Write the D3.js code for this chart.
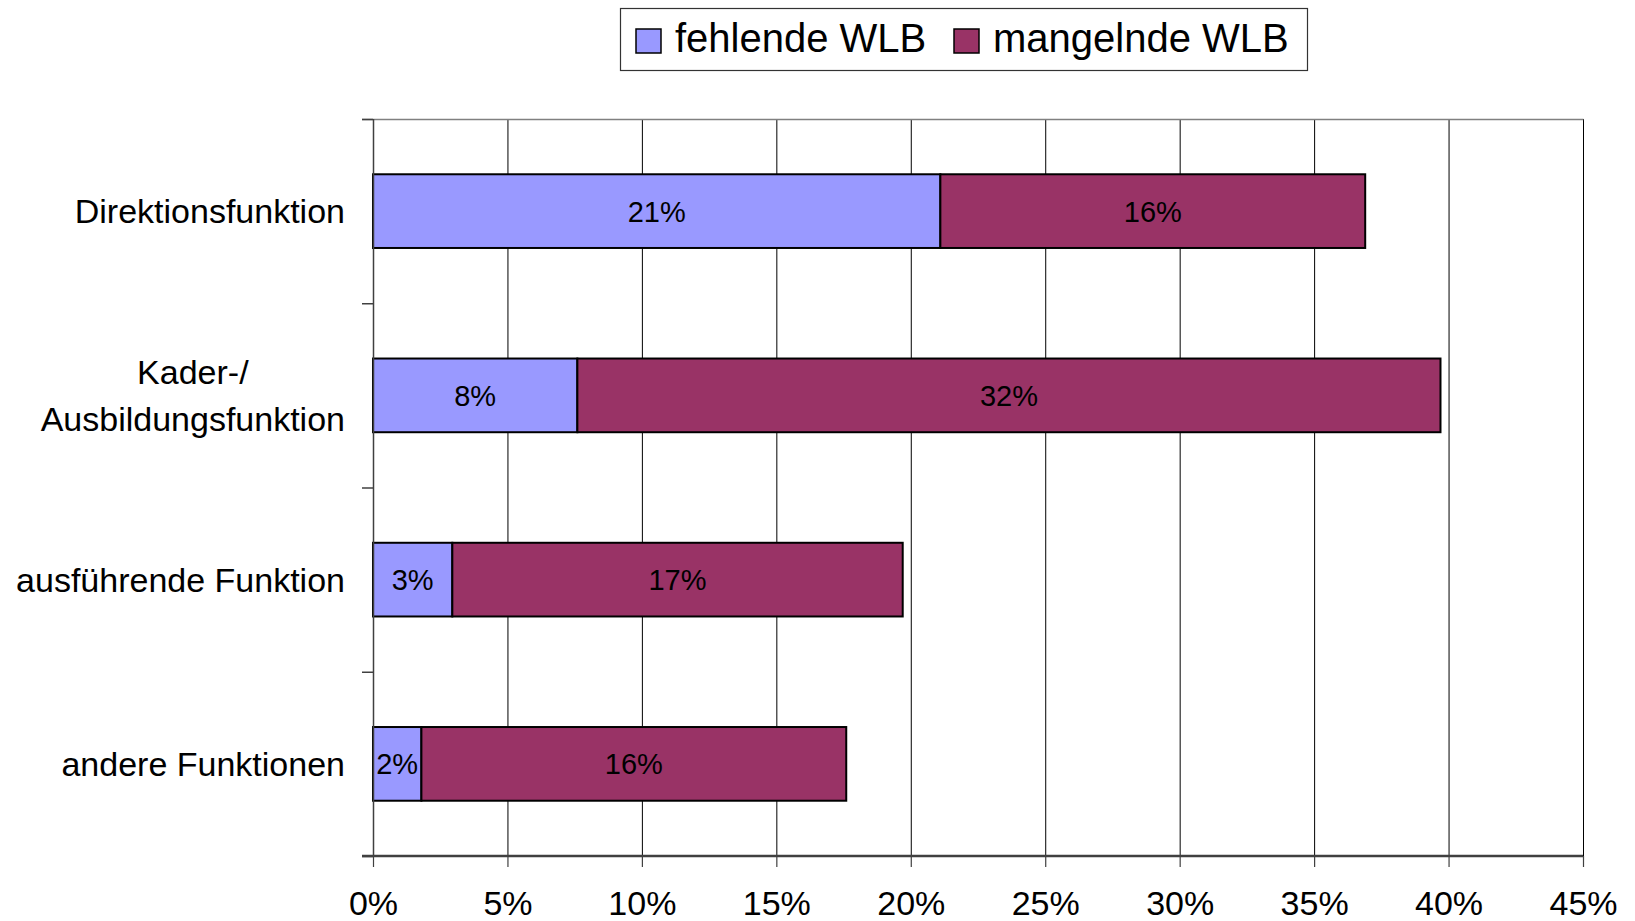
<!DOCTYPE html>
<html>
<head>
<meta charset="utf-8">
<script src="https://cdn.jsdelivr.net/npm/d3@7"></script>
<style>
  body { margin: 0; background: #fff; }
  svg { display: block; font-family: "Liberation Sans", Arial, sans-serif; }
</style>
</head>
<body>
<script>
// chart data (percent)
var categories = ["Direktionsfunktion", "Kader-/\nAusbildungsfunktion", "ausführende Funktion", "andere Funktionen"];
var fehlend = [21.1, 7.6, 2.95, 1.8];
var mangelnd = [15.8, 32.1, 16.75, 15.8];
var seriesNames = ["fehlende WLB", "mangelnde WLB"];
var seriesColors = ["#9999FF", "#993366"];
var xTicks = [0, 5, 10, 15, 20, 25, 30, 35, 40, 45];

var svg = d3.select("body").append("svg").attr("width", 1635).attr("height", 921);

var plotLeft = 373, plotRight = 1583, plotTop = 119, plotBottom = 856;

var x = d3.scaleLinear().domain([0, 45]).range([plotLeft, plotRight]);
var y = d3.scaleBand().domain(categories).range([plotTop, plotBottom]).paddingInner(0.6).paddingOuter(0.3);

// stacked rows
var rows = categories.map(function(c, i) { return { cat: c, a: fehlend[i], b: mangelnd[i] }; });
var stack = d3.stack().keys(["a", "b"])(rows);

// vertical gridlines
svg.append("g").selectAll("line")
    .data(xTicks.slice(1))
    .enter().append("line")
    .attr("x1", function(d) { return x(d) + 0.5; })
    .attr("x2", function(d) { return x(d) + 0.5; })
    .attr("y1", plotTop).attr("y2", plotBottom)
    .attr("stroke", "#000").attr("stroke-width", 1);

// top border of plot area
svg.append("line")
    .attr("x1", plotLeft - 11).attr("x2", plotRight + 0.5)
    .attr("y1", plotTop + 0.5).attr("y2", plotTop + 0.5)
    .attr("stroke", "#808080").attr("stroke-width", 1.5);

// bars
stack.forEach(function(layer, k) {
  var g = svg.append("g");
  g.selectAll("rect")
      .data(layer)
      .enter().append("rect")
      .attr("x", function(d) { return x(d[0]); })
      .attr("width", function(d) { return x(d[1]) - x(d[0]); })
      .attr("y", function(d) { return y(d.data.cat); })
      .attr("height", y.bandwidth())
      .attr("fill", seriesColors[k])
      .attr("stroke", "#000").attr("stroke-width", 2);
  g.selectAll("text")
      .data(layer)
      .enter().append("text")
      .attr("x", function(d) { return (x(d[0]) + x(d[1])) / 2; })
      .attr("y", function(d) { return y(d.data.cat) + y.bandwidth() / 2; })
      .attr("dy", "0.36em")
      .attr("text-anchor", "middle")
      .style("font-size", "29px")
      .attr("fill", "#000")
      .text(function(d) { return Math.round(d[1] - d[0]) + "%"; });
});

// left axis line with ticks at category boundaries
var bounds = categories.map(function(c) { return y(c) - y.step() * y.paddingOuter(); });
bounds.push(plotBottom);
svg.append("line")
    .attr("x1", plotLeft + 0.5).attr("x2", plotLeft + 0.5)
    .attr("y1", plotTop).attr("y2", plotBottom)
    .attr("stroke", "#404040").attr("stroke-width", 1.5);
svg.append("g").selectAll("line")
    .data(bounds)
    .enter().append("line")
    .attr("x1", plotLeft - 11).attr("x2", plotLeft)
    .attr("y1", function(d) { return d + 0.5; })
    .attr("y2", function(d) { return d + 0.5; })
    .attr("stroke", "#404040").attr("stroke-width", 1.5);

// bottom axis
var xAxis = svg.append("g")
    .attr("transform", "translate(0," + plotBottom + ")")
    .call(d3.axisBottom(x).tickValues(xTicks).tickSize(11).tickSizeOuter(0)
      .tickFormat(function(d) { return d + "%"; }));
xAxis.select(".domain").attr("stroke", "#404040").attr("stroke-width", 2.5)
    .attr("d", "M" + (plotLeft - 11) + ",0H" + plotRight);
xAxis.selectAll(".tick line").attr("stroke", "#404040").attr("stroke-width", 1.2);
xAxis.selectAll(".tick text")
    .attr("y", 59).attr("dy", 0)
    .attr("fill", "#000")
    .style("font-size", "34px")
    .style("font-family", "Liberation Sans, Arial, sans-serif");

// category labels
var labelRight = 345;
categories.forEach(function(c) {
  var lines = c.split("\n");
  var cy = y(c) + y.bandwidth() / 2;
  var lh = 47;
  var t = svg.append("text")
      .style("font-size", "34px")
      .attr("fill", "#000")
      .attr("text-anchor", "middle");
  lines.forEach(function(l, i) {
    t.append("tspan")
      .attr("y", cy + (i - (lines.length - 1) / 2) * lh)
      .attr("dy", "0.35em")
      .text(l);
  });
  var maxW = 0;
  t.selectAll("tspan").each(function() { maxW = Math.max(maxW, this.getComputedTextLength()); });
  t.selectAll("tspan").attr("x", labelRight - maxW / 2);
});

// legend
var legend = svg.append("g");
legend.append("rect")
    .attr("x", 620.5).attr("y", 8.5).attr("width", 687).attr("height", 62)
    .attr("fill", "#fff").attr("stroke", "#333").attr("stroke-width", 1.2);
var legendX = [636, 954];
seriesNames.forEach(function(name, i) {
  legend.append("rect")
    .attr("x", legendX[i]).attr("y", 29).attr("width", 25).attr("height", 24)
    .attr("fill", seriesColors[i]).attr("stroke", "#000").attr("stroke-width", 1.5);
  legend.append("text")
    .attr("x", legendX[i] + 39).attr("y", 52)
    .style("font-size", "40px")
    .attr("fill", "#000")
    .text(name);
});
</script>
</body>
</html>
